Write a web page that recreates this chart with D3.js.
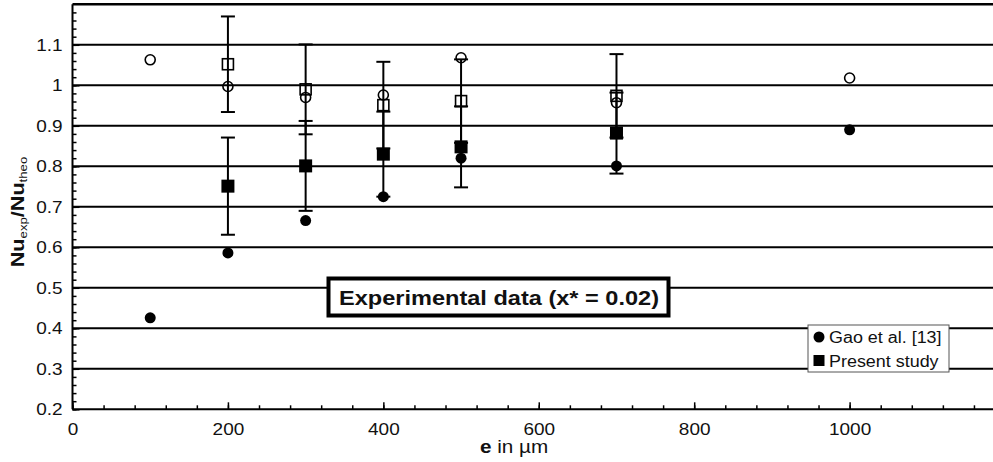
<!DOCTYPE html>
<html><head><meta charset="utf-8">
<script src="https://cdn.jsdelivr.net/npm/d3@7"></script>
<style>body{margin:0;background:#fff}svg{display:block;font-family:"Liberation Sans",Arial,sans-serif}</style>
</head><body><svg id="c" width="993" height="462"></svg>
<script>
const xGao = [100, 200, 300, 400, 500, 700, 1000];
const gaoFilled = [0.426, 0.586, 0.666, 0.725, 0.820, 0.801, 0.890];
const gaoOpen = [1.063, 0.997, 0.970, 0.976, 1.068, 0.957, 1.018];
const xPresent = [200, 300, 400, 500, 700];
const presentFilled = [0.751, 0.801, 0.830, 0.848, 0.882];
const presentFilledErr = [0.120, 0.111, 0.105, 0.100, 0.100];
const presentOpen = [1.052, 0.990, 0.951, 0.961, 0.974];
const presentOpenErr = [0.118, 0.111, 0.107, 0.103, 0.103];
const xTicks = [0, 200, 400, 600, 800, 1000];
const yTicks = [0.2, 0.3, 0.4, 0.5, 0.6, 0.7, 0.8, 0.9, 1.0, 1.1];
const yTickLabels = ["0.2","0.3","0.4","0.5","0.6","0.7","0.8","0.9","1","1.1"];
const gridValues = [0.3, 0.4, 0.5, 0.6, 0.7, 0.8, 0.9, 1.0, 1.1];
const legendLabels = ["Gao et al. [13]", "Present study"];
const annotation = "Experimental data (x* = 0.02)";

const svg = d3.select("#c");
const x = d3.scaleLinear().domain([0, 1180]).range([72.5, 989.5]);
const y = d3.scaleLinear().domain([0.2, 1.2]).range([409.3, 4.3]);
const W = 993;
const stretch = (sel, k) => sel.each(function () {
  const L = this.getComputedTextLength();
  d3.select(this).attr("textLength", L * k).attr("lengthAdjust", "spacingAndGlyphs");
});

// gridlines
svg.append("g").selectAll("line").data(gridValues).join("line")
  .attr("x1", x(0)).attr("x2", W).attr("y1", d => y(d)).attr("y2", d => y(d))
  .attr("stroke", "#000").attr("stroke-width", 2);
svg.append("line").attr("x1", x(0)).attr("x2", W).attr("y1", y(1.2)).attr("y2", y(1.2))
  .attr("stroke", "#000").attr("stroke-width", 2.5);

// axes
const xAxisMinor = d3.axisBottom(x).tickValues(d3.range(0, 1200, 40)).tickSize(-4).tickFormat("");
const xAxisMajor = d3.axisBottom(x).tickValues(xTicks).tickSize(-7).tickPadding(14).tickFormat(d3.format("d"));
const gx1 = svg.append("g").attr("transform", `translate(0,${y(0.2)})`).call(xAxisMinor);
const gx2 = svg.append("g").attr("transform", `translate(0,${y(0.2)})`).call(xAxisMajor);
[gx1, gx2].forEach(g => { g.select(".domain").remove(); g.selectAll("line").attr("stroke", "#000").attr("stroke-width", 1.5); });
gx2.selectAll("text").attr("font-size", 16.5).attr("fill", "#111").call(stretch, 1.15);
svg.append("line").attr("x1", x(0)).attr("x2", W).attr("y1", y(0.2)).attr("y2", y(0.2)).attr("stroke", "#000").attr("stroke-width", 2);

const yAxisMinor = d3.axisLeft(y).tickValues(d3.range(0.2, 1.2, 0.02)).tickSize(-4).tickFormat("");
const yAxisMajor = d3.axisLeft(y).tickValues(yTicks).tickSize(-7).tickPadding(10).tickFormat((d, i) => yTickLabels[i]);
const gy1 = svg.append("g").attr("transform", `translate(${x(0)},0)`).call(yAxisMinor);
const gy2 = svg.append("g").attr("transform", `translate(${x(0)},0)`).call(yAxisMajor);
[gy1, gy2].forEach(g => { g.select(".domain").remove(); g.selectAll("line").attr("stroke", "#000").attr("stroke-width", 1.5); });
gy2.selectAll("text").attr("font-size", 16.5).attr("fill", "#111").call(stretch, 1.15);
svg.append("line").attr("x1", x(0)).attr("x2", x(0)).attr("y1", y(0.2)).attr("y2", y(1.2)).attr("stroke", "#000").attr("stroke-width", 2);

// axis titles
const xt = svg.append("text").attr("transform", "translate(514,453) scale(1.15,1)").attr("text-anchor", "middle")
  .attr("font-size", 18).attr("fill", "#111");
xt.append("tspan").attr("font-weight", "bold").text("e");
xt.append("tspan").text(" in µm");
const yt = svg.append("text").attr("transform", "translate(24,212) rotate(-90) scale(1.2,1)").attr("text-anchor", "middle")
  .attr("font-size", 18).attr("font-weight", "bold").attr("fill", "#111");
yt.append("tspan").text("Nu");
yt.append("tspan").attr("font-size", 11).attr("font-weight", "normal").attr("dy", 3).text("exp");
yt.append("tspan").attr("dy", -3).text("/Nu");
yt.append("tspan").attr("font-size", 11).attr("font-weight", "normal").attr("dy", 3).text("theo");

// annotation box
const ab = svg.append("g");
ab.append("rect").attr("x", 328.5).attr("y", 278.5).attr("width", 340).attr("height", 37)
  .attr("fill", "#fff").attr("stroke", "#000").attr("stroke-width", 4);
ab.append("text").attr("x", 339).attr("y", 304.5).attr("font-size", 20.5).attr("font-weight", "bold")
  .attr("fill", "#111").attr("textLength", 320).attr("lengthAdjust", "spacingAndGlyphs").text(annotation);

// legend
const lg = svg.append("g");
lg.append("rect").attr("x", 808).attr("y", 325).attr("width", 141).attr("height", 47)
  .attr("fill", "#fff").attr("stroke", "#555").attr("stroke-width", 1);
lg.append("circle").attr("cx", 819).attr("cy", 337).attr("r", 5.5).attr("fill", "#000");
lg.append("rect").attr("x", 813.5).attr("y", 355).attr("width", 11).attr("height", 11).attr("fill", "#000");
lg.selectAll("text.l").data(legendLabels).join("text").attr("class", "l")
  .attr("x", 829).attr("y", (d, i) => 342.5 + i * 24).attr("font-size", 16).attr("fill", "#111").text(d => d)
  .call(stretch, 1.12);

// error bars
function errBars(vals, errs) {
  const g = svg.append("g");
  const data = xPresent.map((xv, i) => ({x: xv, lo: vals[i] - errs[i], hi: vals[i] + errs[i]}));
  g.selectAll("line.v").data(data).join("line").attr("class", "v")
    .attr("x1", d => x(d.x)).attr("x2", d => x(d.x)).attr("y1", d => y(d.lo)).attr("y2", d => y(d.hi))
    .attr("stroke", "#000").attr("stroke-width", 2);
  ["lo", "hi"].forEach(k => {
    g.selectAll("line." + k).data(data).join("line").attr("class", k)
      .attr("x1", d => x(d.x) - 7).attr("x2", d => x(d.x) + 7).attr("y1", d => y(d[k])).attr("y2", d => y(d[k]))
      .attr("stroke", "#000").attr("stroke-width", 2);
  });
}
errBars(presentOpen, presentOpenErr);
errBars(presentFilled, presentFilledErr);

// open squares
svg.append("g").selectAll("rect").data(xPresent).join("rect")
  .attr("x", (d) => x(d) - 5.5).attr("y", (d, i) => y(presentOpen[i]) - 5.5).attr("width", 11).attr("height", 11)
  .attr("fill", "none").attr("stroke", "#000").attr("stroke-width", 1.6);
// open circles
svg.append("g").selectAll("circle").data(xGao).join("circle")
  .attr("cx", d => x(d)).attr("cy", (d, i) => y(gaoOpen[i])).attr("r", 5)
  .attr("fill", "none").attr("stroke", "#000").attr("stroke-width", 1.6);
// filled squares
svg.append("g").selectAll("rect").data(xPresent).join("rect")
  .attr("x", d => x(d) - 6.5).attr("y", (d, i) => y(presentFilled[i]) - 6.5).attr("width", 13).attr("height", 13)
  .attr("fill", "#000");
// filled circles
svg.append("g").selectAll("circle").data(xGao).join("circle")
  .attr("cx", d => x(d)).attr("cy", (d, i) => y(gaoFilled[i])).attr("r", 5.5).attr("fill", "#000");
</script></body></html>
